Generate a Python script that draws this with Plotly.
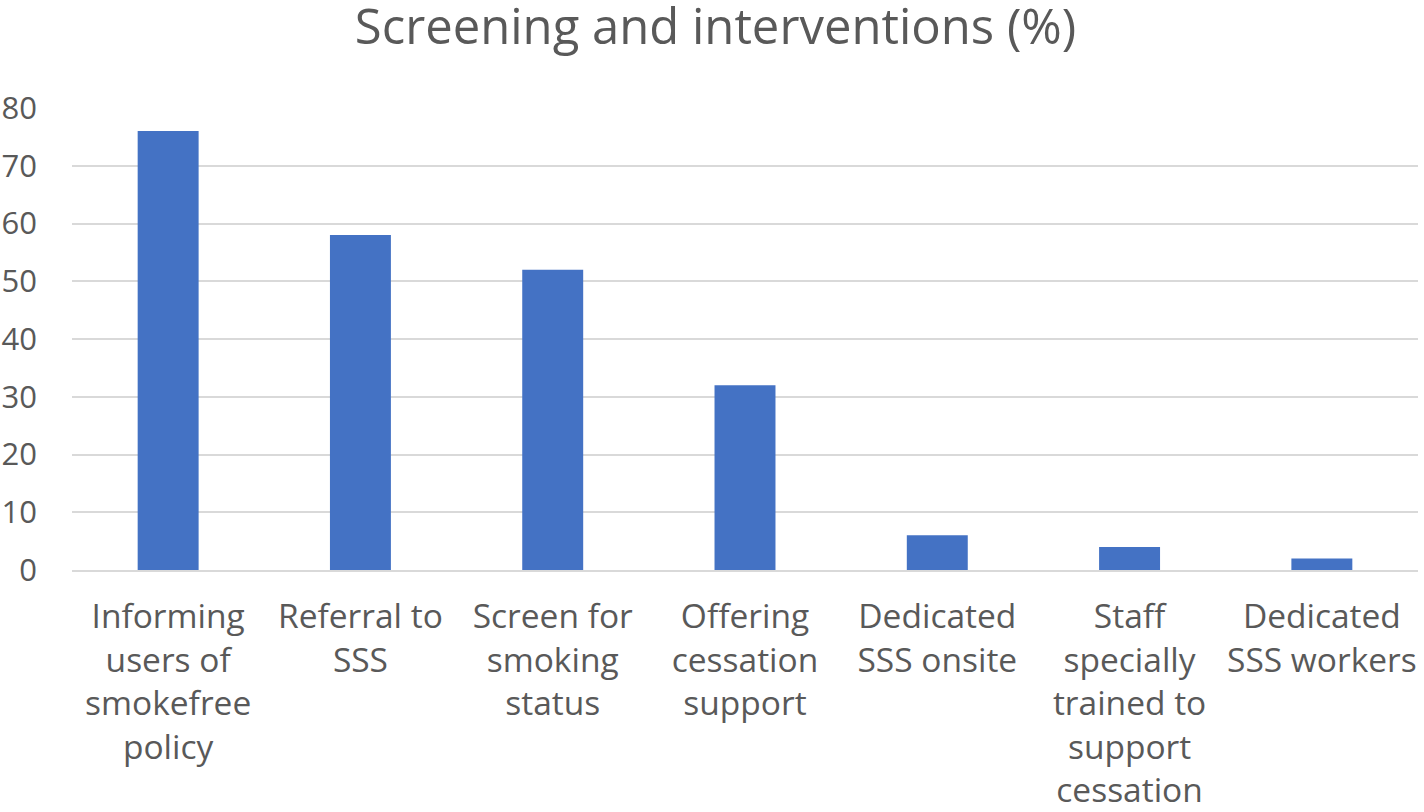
import plotly.graph_objects as go

categories = [
    "Informing<br>users of<br>smokefree<br>policy",
    "Referral to<br>SSS",
    "Screen for<br>smoking<br>status",
    "Offering<br>cessation<br>support",
    "Dedicated<br>SSS onsite",
    "Staff<br>specially<br>trained to<br>support<br>cessation",
    "Dedicated<br>SSS workers",
]
values = [76, 58, 52, 32, 6, 4, 2]
y_ticks = [0, 10, 20, 30, 40, 50, 60, 70, 80]

FONT = "Open Sans"
GREY = "#595959"

fig = go.Figure(
    go.Bar(x=categories, y=values, marker=dict(color="#4472C4", line=dict(width=0)))
)
fig.update_layout(
    width=1424,
    height=812,
    paper_bgcolor="white",
    plot_bgcolor="white",
    margin=dict(l=72, r=6, t=108, b=242, autoexpand=False),
    bargap=0.683,
    showlegend=False,
    title=dict(
        text="Screening and interventions (%)",
        x=0.5025,
        xanchor="center",
        y=1 - 27 / 812,
        yanchor="middle",
        font=dict(family=FONT, size=49, color=GREY),
    ),
    font=dict(family=FONT, color=GREY),
)
fig.update_yaxes(
    range=[0, 80],
    tickvals=y_ticks,
    showgrid=True,
    gridcolor="#d9d9d9",
    gridwidth=2,
    zeroline=False,
    showline=False,
    ticks="",
    tickfont=dict(family=FONT, size=31, color=GREY),
    ticklabelstandoff=34,
    automargin=False,
)
fig.update_xaxes(
    showline=True,
    linecolor="#d9d9d9",
    linewidth=2,
    ticks="",
    tickangle=0,
    tickfont=dict(family=FONT, size=33.5, color=GREY),
    ticklabelstandoff=16,
    automargin=False,
)
fig.write_html(
    "out.html",
    config={"displayModeBar": False},
    post_script="document.body.style.margin='0px';",
)
